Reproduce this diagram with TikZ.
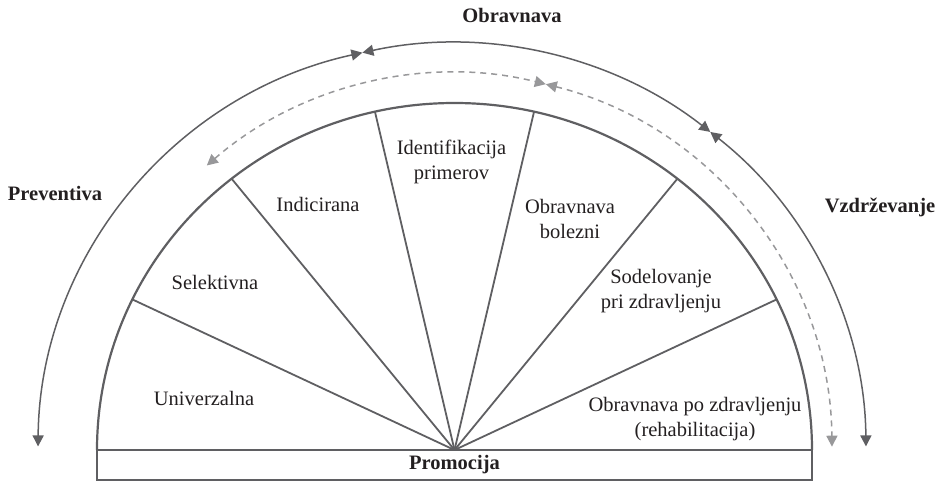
\documentclass[tikz,border=0pt]{standalone}
\usepackage{fontspec}
\setmainfont{Liberation Serif}
\usepackage{tikz}
\usetikzlibrary{arrows.meta, calc}
\definecolor{colLine}{RGB}{95,95,98}
\definecolor{colDash}{RGB}{152,152,154}
\definecolor{colText}{RGB}{35,31,32}
\tikzset{
  rim/.style={
    draw=colLine, line width=2.2pt
  },
  spoke/.style={
    draw=colLine, line width=1.8pt
  },
  promobox/.style={
    draw=colLine, line width=1.5pt, rectangle, inner sep=0pt,
    minimum width=715pt, minimum height=30pt,
    font=\fontsize{20.5}{25}\selectfont\bfseries, text=colText
  },
  cyclearr/.style={
    draw=colLine, line width=1.5pt,
    {Triangle[length=11pt, width=11pt]}-{Triangle[length=11pt, width=11pt]}
  },
  dasharr/.style={
    draw=colDash, line width=1.5pt, dash pattern=on 6pt off 5pt,
    {Triangle[length=11pt, width=11pt]}-{Triangle[length=11pt, width=11pt]}
  },
  sector/.style={
    font=\fontsize{20.5}{25}\selectfont, text=colText,
    align=center, inner sep=0pt, anchor=base
  },
  phase/.style={
    font=\fontsize{20.5}{25}\selectfont\bfseries, text=colText,
    inner sep=0pt, anchor=base
  },
}

\begin{document}
\begin{tikzpicture}[x=1pt, y=1pt]
\useasboundingbox (0,0) rectangle (941,482);

% ── Centres ─────────────────────────────────────────────────────────────────
\coordinate (apex)  at (454.5,32);
\coordinate (outc)  at (452,32);
\coordinate (dashc) at (454.5,32);

% ── Base box and semicircle ─────────────────────────────────────────────────
\node[promobox] (promo) at (454.5,17) {Promocija};
\draw[rim] ([shift={(180:357.5pt and 347pt)}]apex)
  arc[start angle=180, end angle=0, x radius=357.5pt, y radius=347pt];

% spokes: seven equal sectors
\foreach \i in {1,...,6} {
  \coordinate (s\i) at ($(apex)+({180-\i*180/7}:357.5pt and 347pt)$);
  \draw[spoke] (apex) -- (s\i);
}

% ── Outer cycle (solid) ─────────────────────────────────────────────────────
\coordinate (o1) at ($(outc)+(179.5:414pt and 407pt)$);
\coordinate (o2) at ($(outc)+(102.5:414pt and 407pt)$);
\coordinate (o3) at ($(outc)+(51.4:414pt and 407pt)$);
\draw[cyclearr] (o1) arc[start angle=179.5, end angle=102.5, x radius=414pt, y radius=407pt];
\draw[cyclearr] (o2) arc[start angle=102.5, end angle=51.4, x radius=414pt, y radius=407pt];
\draw[cyclearr] (o3) arc[start angle=51.4, end angle=0.5, x radius=414pt, y radius=407pt];

% ── Inner cycle (dashed) ────────────────────────────────────────────────────
\coordinate (d1) at ($(dashc)+(131:377.5pt and 377pt)$);
\coordinate (d2) at ($(dashc)+(76:377.5pt and 377pt)$);
\draw[dasharr] (d1) arc[start angle=131, end angle=76, x radius=377.5pt, y radius=377pt];
\draw[dasharr] (d2) arc[start angle=76, end angle=0.5, x radius=377.5pt, y radius=377pt];

% ── Phase labels ────────────────────────────────────────────────────────────
\node[phase] (obr)  at (512,459) {Obravnava};
\node[phase] (prev) at (55,281)  {Preventiva};
\node[phase] (vzd)  at (880,269) {Vzdrževanje};

% ── Sector labels (base = last line) ────────────────────────────────────────
\node[sector] (univ)  at (204,77)    {Univerzalna};
\node[sector] (sel)   at (215,193)   {Selektivna};
\node[sector] (ind)   at (318,270)   {Indicirana};
\node[sector] (ident) at (451.5,302) {Identifikacija\\primerov};
\node[sector] (bol)   at (570,243)   {Obravnava\\bolezni};
\node[sector] (sod)   at (661,174)   {Sodelovanje\\pri zdravljenju};
\node[sector] (reh)   at (695,46)    {Obravnava po zdravljenju\\(rehabilitacija)};

\end{tikzpicture}
\end{document}
